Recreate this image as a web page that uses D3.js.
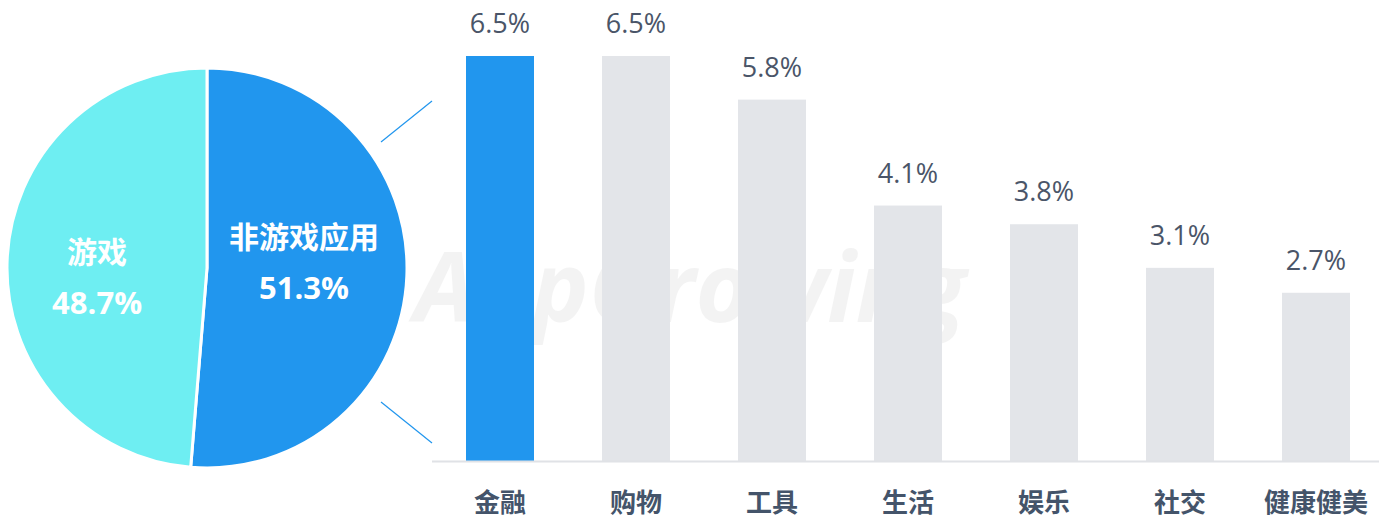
<!DOCTYPE html>
<html>
<head>
<meta charset="utf-8">
<script src="https://cdn.jsdelivr.net/npm/d3@7/dist/d3.min.js"></script>
<style>
  html, body { margin: 0; padding: 0; background: #fff; }
  svg { display: block; font-family: "Open Sans", "Noto Sans CJK SC", sans-serif; }
</style>
</head>
<body>
<div id="chart"></div>
<script>
// pie data
const pieNames = ["非游戏应用", "游戏"];
const pieValues = [51.3, 48.7];
const pieColors = ["#2196ee", "#6eeef2"];

// bar data
const categories = ["金融", "购物", "工具", "生活", "娱乐", "社交", "健康健美"];
const barValues = [6.5, 6.5, 5.8, 4.1, 3.8, 3.1, 2.7];

const W = 1379, H = 519;

const svg = d3.select("#chart")
    .append("svg")
    .attr("width", W)
    .attr("height", H);

// watermark
svg.append("text")
    .attr("x", 690)
    .attr("y", 322)
    .attr("text-anchor", "middle")
    .style("font-size", "96px")
    .style("font-weight", "bold")
    .style("font-style", "italic")
    .style("fill", "#000")
    .style("opacity", 0.045)
    .text("AppGrowing");

// ---- PIE ----
const cx = 207, cy = 268, radius = 200;

const pie = d3.pie()
    .sort(null)
    .value(d => d.value);

const pieData = pie(pieNames.map((n, i) => ({ name: n, value: pieValues[i], color: pieColors[i] })));

const arc = d3.arc().innerRadius(0).outerRadius(radius);

// small nudges so labels sit where the original has them
const labelNudge = [[-3, -10], [-10, 13]];

const pieG = svg.append("g")
    .attr("transform", "translate(" + cx + "," + cy + ")");

pieG.selectAll("path")
    .data(pieData)
    .enter()
    .append("path")
    .attr("d", arc)
    .attr("fill", d => d.data.color)
    .attr("stroke", "#fff")
    .attr("stroke-width", 3);

const lbl = pieG.selectAll("g.lbl")
    .data(pieData)
    .enter()
    .append("g")
    .attr("class", "lbl")
    .attr("transform", (d, i) => {
        const c = arc.centroid(d);
        return "translate(" + (c[0] + labelNudge[i][0]) + "," + (c[1] + labelNudge[i][1]) + ")";
    });

lbl.append("text")
    .attr("text-anchor", "middle")
    .attr("y", -14)
    .style("fill", "#fff")
    .style("font-weight", "bold")
    .style("font-size", "30px")
    .text(d => d.data.name);

lbl.append("text")
    .attr("text-anchor", "middle")
    .attr("y", 37)
    .style("fill", "#fff")
    .style("font-weight", "bold")
    .style("font-size", "31px")
    .text(d => d.data.value.toFixed(1) + "%");

// connector lines
svg.append("line")
    .attr("x1", 381).attr("y1", 142).attr("x2", 432).attr("y2", 101)
    .attr("stroke", "#2196ee").attr("stroke-width", 1.2);
svg.append("line")
    .attr("x1", 381).attr("y1", 402).attr("x2", 432).attr("y2", 443)
    .attr("stroke", "#2196ee").attr("stroke-width", 1.2);

// ---- BARS ----
const baseY = 461;

const x = d3.scaleBand()
    .domain(categories)
    .range([432, 1384])
    .paddingInner(0.5)
    .paddingOuter(0.25);

const y = d3.scaleLinear()
    .domain([0, 6.5])
    .range([baseY, 56]);

svg.selectAll(".bar")
    .data(categories)
    .enter()
    .append("rect")
    .attr("class", "bar")
    .attr("x", d => x(d))
    .attr("y", (d, i) => y(barValues[i]))
    .attr("width", x.bandwidth())
    .attr("height", (d, i) => baseY - y(barValues[i]))
    .attr("fill", (d, i) => i === 0 ? "#2196ee" : "#e3e5e9");

svg.selectAll(".val")
    .data(categories)
    .enter()
    .append("text")
    .attr("class", "val")
    .attr("x", d => x(d) + x.bandwidth() / 2)
    .attr("y", (d, i) => y(barValues[i]) - 23)
    .attr("text-anchor", "middle")
    .style("fill", "#4a5568")
    .style("font-size", "27px")
    .text((d, i) => barValues[i].toFixed(1) + "%");

// x axis
const xAxis = d3.axisBottom(x).tickSize(0).tickPadding(33);

const xAxisGroup = svg.append("g")
    .attr("class", "x-axis")
    .attr("transform", "translate(0," + baseY + ")")
    .call(xAxis);

xAxisGroup.select(".domain").remove();
xAxisGroup.selectAll("text")
    .style("font-size", "26px")
    .style("font-weight", "bold")
    .style("fill", "#44546a")
    .style("font-family", "'Noto Sans CJK SC', sans-serif");

svg.append("line")
    .attr("x1", 432).attr("x2", W)
    .attr("y1", baseY + 0.5).attr("y2", baseY + 0.5)
    .attr("stroke", "#e0e2e6")
    .attr("stroke-width", 2);
</script>
</body>
</html>
